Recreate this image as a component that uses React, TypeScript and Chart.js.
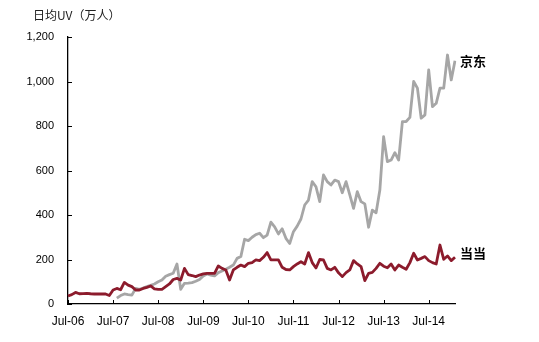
import { useEffect, useRef } from 'react';
import { Chart, registerables } from 'chart.js';

Chart.register(...registerables);

const MONTHS = ['Jan', 'Feb', 'Mar', 'Apr', 'May', 'Jun', 'Jul', 'Aug', 'Sep', 'Oct', 'Nov', 'Dec'];
const START_YEAR = 2006;
const START_MONTH = 6; // July
const MONTH_COUNT = 104; // Jul-06 .. Feb-15

const categories: string[] = Array.from({ length: MONTH_COUNT }, (_, i) => {
  const m = (START_MONTH + i) % 12;
  const y = START_YEAR + Math.floor((START_MONTH + i) / 12);
  return `${MONTHS[m]}-${String(y % 100).padStart(2, '0')}`;
});

const xTickLabels = ['Jul-06', 'Jul-07', 'Jul-08', 'Jul-09', 'Jul-10', 'Jul-11', 'Jul-12', 'Jul-13', 'Jul-14'];
const yTickValues = [0, 200, 400, 600, 800, 1000, 1200];

const titleText = '日均UV（万人）';

const dangdangLabel = '当当';
const dangdang = [
  36, 42, 52, 46, 47, 48, 46, 45, 45, 45, 45, 38, 63,
  70, 64, 97, 85, 78, 63, 63, 70, 75, 81, 68, 66, 66,
  78, 90, 110, 115, 108, 160, 132, 128, 123, 130, 135, 138, 138,
  138, 171, 160, 153, 108, 153, 165, 175, 168, 183, 186, 198, 195,
  210, 231, 198, 198, 198, 165, 155, 153, 168, 180, 190, 180, 231,
  186, 162, 200, 198, 160, 153, 165, 140, 123, 141, 153, 195, 180,
  168, 105, 138, 142, 160, 183, 170, 163, 180, 153, 175, 165, 156,
  186, 228, 198, 205, 213, 195, 186, 180, 265, 201, 216, 195, 210,
];

const jingdongLabel = '京东';
const jingdong: (number | null)[] = [
  null, null, null, null, null, null, null, null, null, null, null, null, null,
  26, 38, 45, 42, 40, 70, 66, 72, 78, 84, 90, 100, 108,
  125, 132, 138, 180, 66, 93, 94, 96, 102, 110, 126, 135, 130,
  126, 141, 148, 156, 165, 175, 205, 213, 291, 285, 300, 312, 318,
  298, 310, 368, 347, 315, 338, 295, 272, 325, 350, 382, 445, 467,
  550, 527, 460, 580, 550, 535, 557, 550, 500, 550, 490, 430, 505,
  460, 450, 345, 422, 410, 512, 752, 640, 647, 680, 647, 820, 820,
  839, 1000, 970, 835, 850, 1052, 887, 902, 970, 970, 1119, 1007, 1093,
];

const labelOffsets = [-4, 0];

const decorPlugin = {
  id: 'decor',
  afterDraw(chart: any) {
    const { ctx, chartArea, scales } = chart;
    const x = scales.x;
    const y = scales.y;
    ctx.save();
    ctx.strokeStyle = '#000';
    ctx.lineWidth = 1;
    ctx.beginPath();
    yTickValues.forEach((v) => {
      const py = Math.round(y.getPixelForValue(v)) + 0.5;
      ctx.moveTo(chartArea.left, py);
      ctx.lineTo(chartArea.left + 4, py);
    });
    xTickLabels.forEach((l) => {
      const idx = categories.indexOf(l);
      const px = Math.round(x.getPixelForValue(idx)) + 0.5;
      ctx.moveTo(px, chartArea.bottom);
      ctx.lineTo(px, chartArea.bottom - 4);
    });
    ctx.stroke();

    ctx.fillStyle = '#222';
    ctx.textAlign = 'left';
    ctx.textBaseline = 'middle';
    ctx.font = '12px "Noto Sans CJK SC", sans-serif';
    ctx.fillText(titleText, 33, 15);

    ctx.fillStyle = '#000';
    ctx.font = 'bold 13px "Noto Sans CJK SC", sans-serif';
    chart.data.datasets.forEach((ds: any, di: number) => {
      const meta = chart.getDatasetMeta(di);
      const last = meta.data[meta.data.length - 1];
      if (last) ctx.fillText(ds.label, last.x + 5, last.y + labelOffsets[di]);
    });
    ctx.restore();
  },
};

export default function App() {
  const ref = useRef<HTMLCanvasElement>(null);

  useEffect(() => {
    document.body.style.margin = '0';
    const canvas = ref.current;
    if (!canvas) return;
    const chart = new Chart(canvas, {
      type: 'line',
      data: {
        labels: categories,
        datasets: [
          {
            label: dangdangLabel,
            data: dangdang,
            borderColor: '#8c1b2c',
            borderWidth: 2.8,
            pointRadius: 0,
            tension: 0,
            borderJoinStyle: 'round',
            fill: false,
          },
          {
            label: jingdongLabel,
            data: jingdong,
            borderColor: '#a6a6a6',
            borderWidth: 2.8,
            pointRadius: 0,
            tension: 0,
            borderJoinStyle: 'round',
            fill: false,
          },
        ],
      },
      options: {
        responsive: false,
        animation: false,
        layout: { padding: { left: 0, right: 84, top: 37, bottom: 0 } },
        plugins: {
          legend: { display: false },
          tooltip: { enabled: false },
          title: { display: false },
        },
        scales: {
          x: {
            type: 'category',
            offset: false,
            grid: { display: false, drawTicks: false },
            border: { display: true, color: '#000', width: 1.3 },
            ticks: {
              autoSkip: false,
              maxRotation: 0,
              minRotation: 0,
              padding: 10,
              color: '#000',
              font: { family: '"Liberation Sans", Arial, sans-serif', size: 12 },
              callback: (_v: any, idx: number) => {
                const l = categories[idx];
                return xTickLabels.includes(l) ? l : null;
              },
            },
            afterFit: (s: any) => {
              s.height = 38;
            },
          },
          y: {
            min: 0,
            max: 1200,
            grid: { display: false, drawTicks: false },
            border: { display: true, color: '#000', width: 1.3 },
            ticks: {
              stepSize: 200,
              padding: 14,
              color: '#000',
              font: { family: '"Liberation Sans", Arial, sans-serif', size: 11 },
              callback: (v: any) => Number(v).toLocaleString('en-US'),
            },
            afterFit: (s: any) => {
              s.width = 68;
            },
          },
        },
      },
      plugins: [decorPlugin],
    });
    return () => chart.destroy();
  }, []);

  return <canvas ref={ref} width={539} height={342} style={{ display: 'block' }} />;
}
